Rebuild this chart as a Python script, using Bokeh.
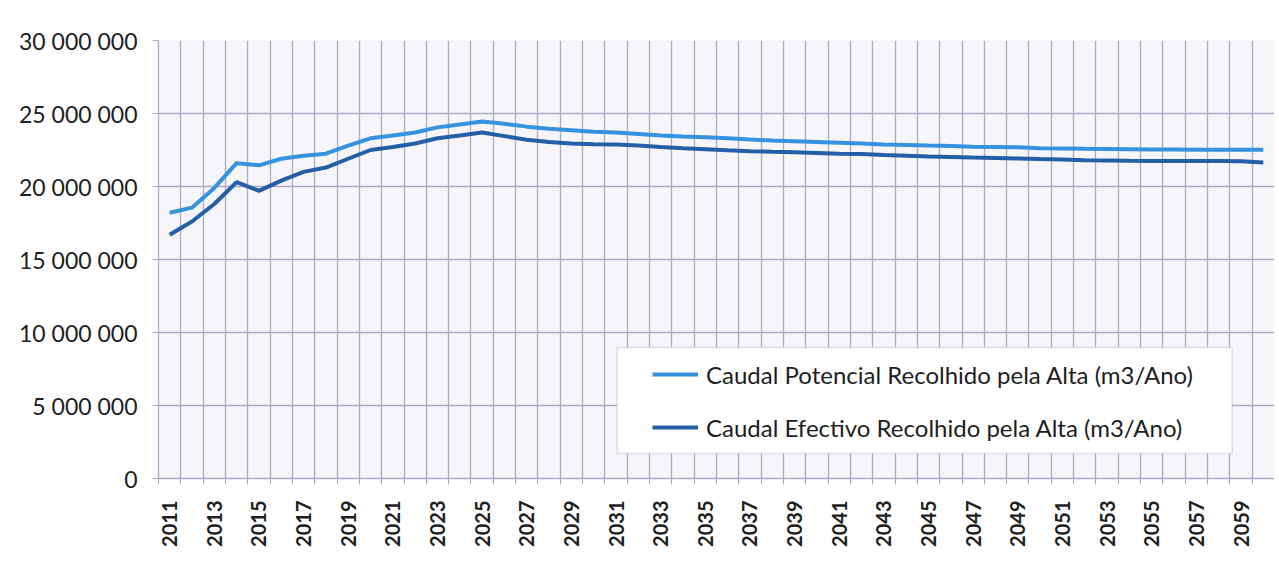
from bokeh.plotting import figure
from bokeh.models import FixedTicker, Legend, LegendItem, Range1d, BoxAnnotation
from bokeh.embed import file_html
from bokeh.resources import INLINE
from math import pi

years = list(range(2011, 2061))

potencial = [18.20, 18.55, 19.90, 21.60, 21.45, 21.90, 22.10, 22.25, 22.80, 23.30,
             23.50, 23.70, 24.05, 24.25, 24.45, 24.30, 24.10, 23.95, 23.85, 23.75,
             23.70, 23.60, 23.50, 23.42, 23.38, 23.30, 23.22, 23.15, 23.10, 23.05,
             23.00, 22.95, 22.88, 22.85, 22.80, 22.78, 22.72, 22.70, 22.68, 22.62,
             22.60, 22.58, 22.57, 22.55, 22.53, 22.53, 22.52, 22.52, 22.52, 22.52]

efectivo = [16.70, 17.60, 18.80, 20.30, 19.70, 20.40, 21.00, 21.30, 21.90, 22.50,
            22.70, 22.95, 23.30, 23.50, 23.70, 23.45, 23.20, 23.05, 22.95, 22.90,
            22.88, 22.80, 22.70, 22.62, 22.55, 22.48, 22.42, 22.38, 22.35, 22.30,
            22.25, 22.22, 22.15, 22.10, 22.05, 22.02, 21.98, 21.95, 21.92, 21.88,
            21.85, 21.80, 21.78, 21.76, 21.75, 21.75, 21.75, 21.75, 21.73, 21.65]

series_names = ["Caudal Potencial Recolhido pela Alta (m3/Ano)",
                "Caudal Efectivo Recolhido pela Alta (m3/Ano)"]

y_ticks = [0, 5000000, 10000000, 15000000, 20000000, 25000000, 30000000]
y_tick_labels = ["0", "5 000 000", "10 000 000", "15 000 000",
                 "20 000 000", "25 000 000", "30 000 000"]
x_label_years = [y for y in years if y % 2 == 1]

FONT = "Lato"
GRID = "#ABABC6"
LIGHT = "#3592DE"
DARK = "#245EA6"

pot_vals = [v * 1_000_000 for v in potencial]
efe_vals = [v * 1_000_000 for v in efectivo]
bounds = [y - 0.5 for y in years] + [years[-1] + 0.5]

p = figure(width=1274, height=562, output_backend="svg", toolbar_location=None,
           x_range=Range1d(bounds[0], bounds[-1]), y_range=Range1d(0, 30000000),
           min_border_left=158, min_border_right=0, min_border_top=40,
           min_border_bottom=84)

p.background_fill_color = "#F6F6FA"
p.border_fill_color = "white"
p.outline_line_color = None

# grids
p.xgrid.ticker = FixedTicker(ticks=bounds)
p.xgrid.grid_line_color = GRID
p.xgrid.grid_line_width = 1.3
p.ygrid.ticker = FixedTicker(ticks=y_ticks)
p.ygrid.grid_line_color = GRID
p.ygrid.grid_line_width = 1.3

# x axis
xa = p.xaxis[0]
xa.ticker = FixedTicker(ticks=x_label_years, minor_ticks=bounds)
xa.major_tick_line_color = None
xa.major_tick_out = 0
xa.major_tick_in = 0
xa.minor_tick_line_color = GRID
xa.minor_tick_out = 6
xa.minor_tick_in = 0
xa.axis_line_color = GRID
xa.axis_line_width = 1.3
xa.major_label_orientation = pi / 2
xa.major_label_standoff = 16
xa.major_label_text_font = FONT
xa.major_label_text_font_size = "20px"
xa.major_label_text_font_style = "bold"
xa.major_label_text_color = "#1e1e1e"

# y axis
ya = p.yaxis[0]
ya.ticker = FixedTicker(ticks=y_ticks)
ya.major_label_overrides = {t: l for t, l in zip(y_ticks, y_tick_labels)}
ya.minor_tick_line_color = None
ya.major_tick_line_color = GRID
ya.major_tick_out = 6
ya.major_tick_in = 0
ya.axis_line_color = GRID
ya.axis_line_width = 1.3
ya.major_label_standoff = 15
ya.major_label_text_font = FONT
ya.major_label_text_font_size = "23px"
ya.major_label_text_color = "#1e1e1e"

r1 = p.line(years, pot_vals, line_color=LIGHT, line_width=4)
r2 = p.line(years, efe_vals, line_color=DARK, line_width=4)

# legend box
box = BoxAnnotation(left=2031.05, right=2058.6, bottom=1710000, top=8970000,
                    fill_color="white", fill_alpha=1.0,
                    line_color="#8FA3CC", line_width=1.5, level="annotation")
p.add_layout(box)

legend = Legend(items=[LegendItem(label=series_names[0], renderers=[r1]),
                       LegendItem(label=series_names[1], renderers=[r2])],
                location=(494, 36), orientation="vertical",
                background_fill_alpha=0, border_line_color=None,
                padding=0, margin=0, spacing=23, label_height=30,
                glyph_width=46, glyph_height=30, label_standoff=8,
                label_text_font=FONT, label_text_font_size="24px",
                label_text_color="#1e1e1e")
p.add_layout(legend, "center")

open("out.html", "w").write(file_html(p, INLINE))
